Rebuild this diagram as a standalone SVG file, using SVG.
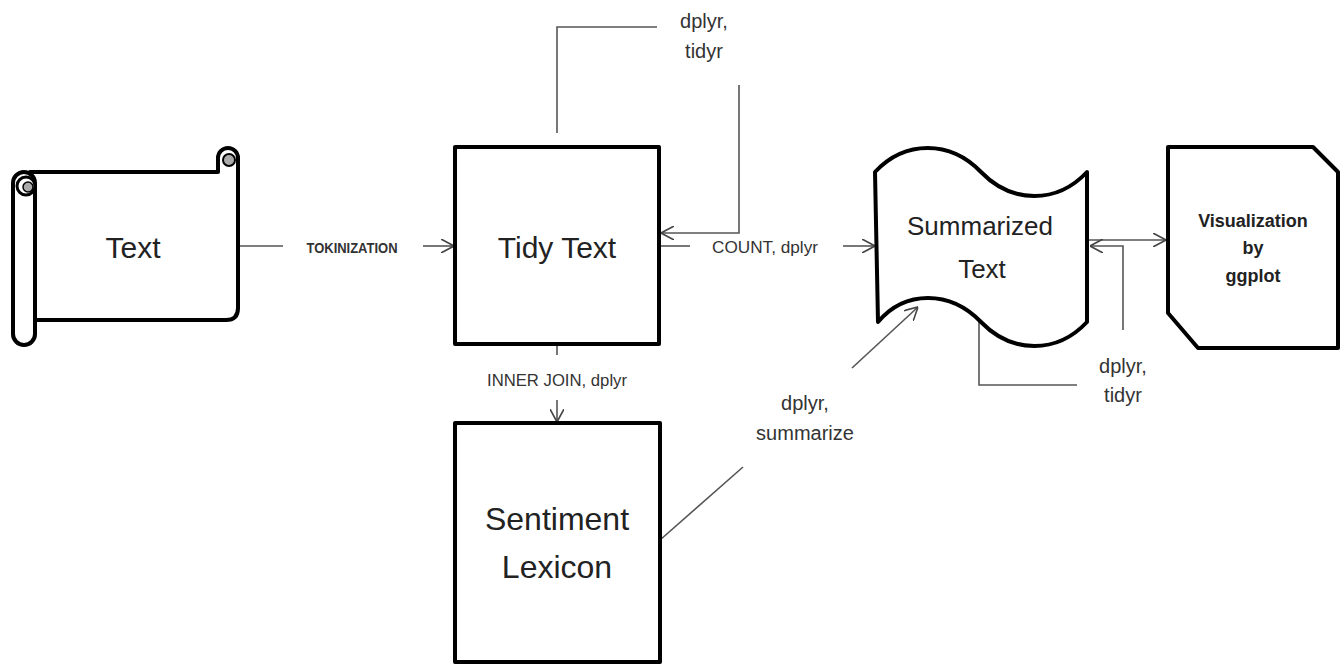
<svg xmlns="http://www.w3.org/2000/svg" width="1340" height="664" viewBox="0 0 1340 664">
<defs>
<style>
.shape{fill:#fff;stroke:#000;stroke-width:4;stroke-linejoin:round}
.conn{fill:none;stroke:#555;stroke-width:1.6}
.big{font-family:"Liberation Sans",Arial,sans-serif;fill:#222;text-anchor:middle}
.lbl{font-family:"Liberation Sans",Arial,sans-serif;fill:#333;text-anchor:middle}
.bold{font-weight:bold}
</style>
<marker id="arr" viewBox="0 0 13 14" refX="13" refY="7" markerWidth="13" markerHeight="14" markerUnits="userSpaceOnUse" orient="auto">
<path d="M0,0 L13,7 L0,14" fill="none" stroke="#444" stroke-width="1.6"/>
</marker>
</defs>
<rect width="1340" height="664" fill="#fff"/>
<g id="connectors">
<path class="conn" d="M238,246 H283"/>
<path class="conn" d="M423,246 H454" marker-end="url(#arr)"/>
<path class="conn" d="M557,133 V27 H657"/>
<path class="conn" d="M739,85 V233 H661" marker-end="url(#arr)"/>
<path class="conn" d="M661,246 H690"/>
<path class="conn" d="M843,246 H875" marker-end="url(#arr)"/>
<path class="conn" d="M557,346 V355"/>
<path class="conn" d="M557,400 V422" marker-end="url(#arr)"/>
<path class="conn" d="M660,540 L743,467"/>
<path class="conn" d="M852,368 L918,307" marker-end="url(#arr)"/>
<path class="conn" d="M1089,240 H1166" marker-end="url(#arr)"/>
<path class="conn" d="M1123,330 V246 H1090" marker-end="url(#arr)"/>
<path class="conn" d="M979,322 V385 H1077"/>
</g>
<g id="labels">
<text class="lbl bold" x="352" y="253" font-size="14" textLength="91" lengthAdjust="spacingAndGlyphs">TOKINIZATION</text>
<text class="lbl" x="704" y="28" font-size="20">dplyr,</text>
<text class="lbl" x="704" y="58" font-size="20">tidyr</text>
<text class="lbl" x="765" y="253" font-size="17" textLength="106" lengthAdjust="spacingAndGlyphs">COUNT, dplyr</text>
<text class="lbl" x="557" y="386" font-size="17" textLength="140" lengthAdjust="spacingAndGlyphs">INNER JOIN, dplyr</text>
<text class="lbl" x="805" y="410" font-size="20">dplyr,</text>
<text class="lbl" x="805" y="440" font-size="20">summarize</text>
<text class="lbl" x="1123" y="373" font-size="20">dplyr,</text>
<text class="lbl" x="1123" y="402" font-size="20">tidyr</text>
</g>
<g id="node-text">
<path class="shape" d="M218,172 V158 A10,10 0 0 1 238,158 V308 Q238,320 226,320 H30 V172 Z"/>
<circle cx="229" cy="160" r="6" fill="#aaa" stroke="#000" stroke-width="2"/>
<rect class="shape" x="13" y="172" width="22" height="173" rx="11"/>
<circle cx="26" cy="186" r="9" fill="#fff" stroke="#000" stroke-width="3"/>
<circle cx="28" cy="187" r="5" fill="#aaa" stroke="#000" stroke-width="1.5"/>
<text class="big" x="133" y="258" font-size="30">Text</text>
</g>
<g id="node-tidy">
<rect class="shape" x="455" y="147" width="204" height="197"/>
<text class="big" x="557" y="258" font-size="30">Tidy Text</text>
</g>
<g id="node-sentiment">
<rect class="shape" x="455" y="423" width="205" height="239"/>
<text class="big" x="557" y="530" font-size="32">Sentiment</text>
<text class="big" x="557" y="578" font-size="32">Lexicon</text>
</g>
<g id="node-summarized">
<path class="shape" d="M875,172 C905,140 950,140 981,172 C1012,204 1057,204 1087,172 V322 C1057,354 1012,354 981,322 C950,290 905,290 878,322 Z"/>
<text class="big" x="980" y="235" font-size="26">Summarized</text>
<text class="big" x="982" y="278" font-size="26">Text</text>
</g>
<g id="node-visualization">
<path class="shape" d="M1168,147 H1313 L1338,172 V348 H1198 L1168,313 Z"/>
<text class="big bold" x="1253" y="227" font-size="18">Visualization</text>
<text class="big bold" x="1253" y="254" font-size="18">by</text>
<text class="big bold" x="1253" y="282" font-size="18">ggplot</text>
</g>
</svg>
